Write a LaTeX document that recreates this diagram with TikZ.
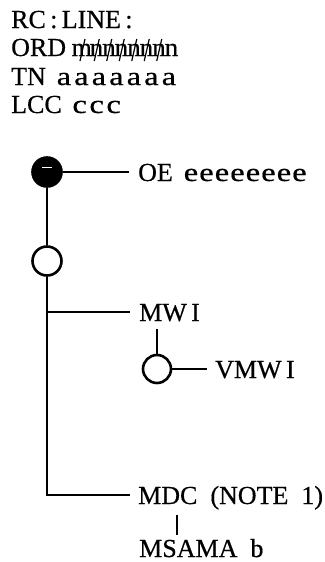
\documentclass[tikz,border=0pt]{standalone}
\usepackage{fontspec}
\setmainfont{Liberation Serif}[FakeBold=0.5]
\usetikzlibrary{calc}
\newlength{\cellw}
\def\cellsc{1.25}
\def\mcend{\mcend}
\def\mcell#1{\mcloop#1\mcend}
\def\mcloop#1{\ifx\mcend#1\else\makebox[\cellw][c]{\scalebox{\cellsc}[1]{#1}}\expandafter\mcloop\fi}
\newcommand{\cells}[3][1.25]{\def\cellsc{#1}\setlength{\cellw}{#2}\mcell{#3}}
\begin{document}
\begin{tikzpicture}[x=1pt,y=-1pt,
  lbl/.style={anchor=base west,inner sep=0pt,font=\fontsize{26}{26}\selectfont},
  ln/.style={line width=2.8pt},
  slash/.style={line width=1.2pt},
  ring/.style={circle,draw,line width=2.6pt,minimum size=29pt,inner sep=0pt}]
\useasboundingbox (0,0) rectangle (324,562);
% header
\node[lbl] (h1) at (11,28) {RC\,:\,LINE\,:};
\node[lbl] (h2) at (11,56) {ORD};
\node[lbl] (h2n) at (73,56) {\makebox[17pt][c]{m}\cells[1.05]{12.5pt}{nnnnnnn}};
\draw[slash] ($(h2n.base west)+(7,5)$) -- ($(h2n.base west)+(12,-17)$);
\foreach \i in {0,...,5}
  \draw[slash] ($(h2n.base west)+({17+(\i+0.5)*12.5-2},5)$) -- ($(h2n.base west)+({17+(\i+0.5)*12.5+3},-17)$);
\node[lbl] (h3) at (11,85) {TN};
\node[lbl] (h3a) at (55,85) {\cells{17.5pt}{aaaaaaa}};
\node[lbl] (h4) at (11,113) {LCC};
\node[lbl] (h4c) at (71,113) {\cells{17pt}{ccc}};
% tree
\node[ring,fill=black] (fc) at (47,172) {};
\draw[white,line width=1pt] (42,167) -- (52,167);
\node[ring] (oc) at (47,261) {};
\coordinate (oeL) at (129,172);
\node[lbl] (oe) at (138,181) {OE};
\node[lbl] (oee) at (183,181) {\cells{15.5pt}{eeeeeeee}};
\draw[ln] (fc) -- (oeL);
\draw[ln] (fc) -- (oc);
\coordinate (j1) at (47,312);
\coordinate (j2) at (47,495);
\coordinate (mwiL) at (130,312);
\coordinate (mdcL) at (130,495);
\draw[ln] (oc) -- (j2) -- (mdcL);
\draw[ln] (j1) -- (mwiL);
\node[lbl] (mwi) at (139,321) {MW\,I};
\coordinate (mwiB) at (157,329);
\node[ring,minimum size=28pt] (vc) at (157,369) {};
\draw[ln] (mwiB) -- (vc);
\coordinate (vL) at (207,369);
\draw[ln] (vc) -- (vL);
\node[lbl] (vmwi) at (215,378) {VMW\,I};
\node[lbl] (mdc) at (138,504) {MDC\ \ (NOTE\ \ 1)};
\coordinate (mdcB) at (177,515);
\coordinate (msT) at (177,535);
\draw[line width=2pt] (mdcB) -- (msT);
\node[lbl] (ms) at (139,557) {MSAMA\ \ b};
\end{tikzpicture}
\end{document}
